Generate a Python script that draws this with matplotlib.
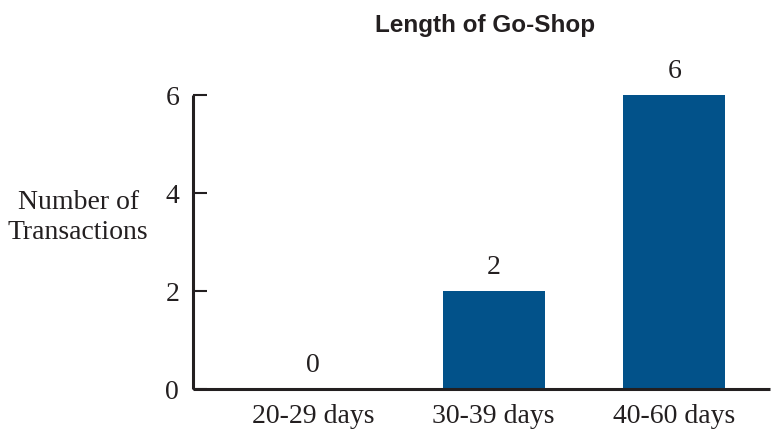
import matplotlib.pyplot as plt

# Go-shop period lengths and deal counts
categories = ["20-29 days", "30-39 days", "40-60 days"]
counts = [0, 2, 6]
yticks = [0, 2, 4, 6]

BAR_COLOR = "#02528A"
SERIF = "Liberation Serif"
INK = "#231f20"
FS = 20

fig = plt.figure(figsize=(7.74, 4.32), dpi=100)
ax = fig.add_axes([0.2494, 0.0995, 0.7456, 0.6805])

x = list(range(len(categories)))
ax.bar(x, counts, width=0.565, color=BAR_COLOR, zorder=2)

# Value labels above each bar
for xi, v in zip(x, counts):
    ax.text(xi, v + 0.22, str(v), ha="center", va="bottom",
            fontsize=FS, family=SERIF, color=INK)

ax.set_xlim(-0.663, 2.53)
ax.set_ylim(0, 6)
ax.set_yticks(yticks)
ax.set_xticks(x)
ax.set_xticklabels(categories)

for side in ("top", "right"):
    ax.spines[side].set_visible(False)
for side in ("left", "bottom"):
    ax.spines[side].set_linewidth(2.2)
    ax.spines[side].set_color(INK)
    ax.spines[side].set_capstyle("butt")

ax.tick_params(axis="y", direction="in", length=10, width=1.5,
               color=INK, pad=10)
ax.tick_params(axis="x", length=0, pad=11)
for lbl in ax.get_xticklabels() + ax.get_yticklabels():
    lbl.set_fontfamily(SERIF)
    lbl.set_fontsize(FS)
    lbl.set_color(INK)

fig.text(0.101, 0.497, "Number of\nTransactions", ha="center", va="center",
         fontsize=FS, family=SERIF, color=INK, linespacing=1.25)

fig.text(0.627, 0.942, "Length of Go-Shop", ha="center", va="center",
         fontsize=17.5, family="Liberation Sans", weight="bold", color=INK)

fig.savefig("out.png", dpi=100)
